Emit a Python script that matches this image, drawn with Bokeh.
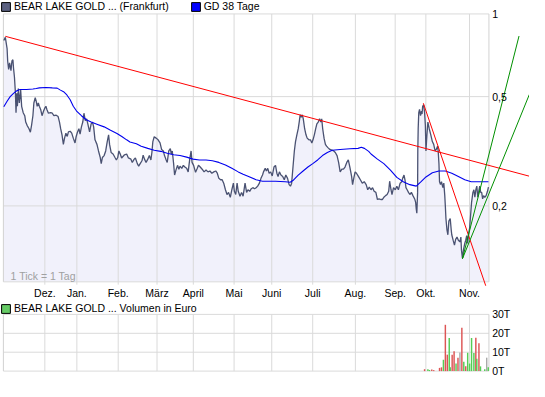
from bokeh.plotting import figure
from bokeh.models import Range1d, Legend, LegendItem, ColumnDataSource, LinearScale
from bokeh.embed import file_html
from bokeh.resources import INLINE
from bokeh.core.properties import value

# ---------------- data (day index, EUR) ----------------
month_days = [21.35, 37.85, 59.15, 79.15, 97.85, 118.85, 138.25, 159.35, 181.35, 201.85, 217.65, 240.15]
month_labels = ["Dez.", "Jan.", "Feb.", "März", "April", "Mai", "Juni", "Juli", "Aug.", "Sep.", "Okt.", "Nov."]

price_day = [
    0.2, 1.0, 1.9, 2.2, 2.7, 3.2, 3.9, 4.4, 4.9, 5.2,
    5.7, 6.2, 6.5, 6.9, 7.2, 7.7, 8.2, 8.9, 9.4, 10.2,
    11.0, 11.5, 12.2, 13.2, 13.9, 14.5, 15.2, 15.7, 16.4, 16.9,
    17.4, 18.0, 18.5, 19.2, 19.9, 20.7, 21.4, 21.9, 22.4, 23.2,
    24.4, 25.2, 26.0, 27.2, 28.2, 28.9, 29.5, 30.2, 30.9, 31.5,
    32.2, 32.9, 33.5, 34.4, 35.2, 36.0, 36.9, 37.5, 38.2, 38.9,
    39.5, 40.2, 40.9, 41.5, 42.2, 42.9, 43.5, 44.4, 45.2, 45.9,
    46.5, 47.2, 48.2, 49.0, 49.9, 50.4, 51.0, 51.9, 52.7, 53.5,
    54.2, 54.7, 55.5, 56.5, 57.5, 58.2, 58.9, 59.5, 60.2, 60.9,
    62.4, 63.5, 64.4, 65.7, 66.4, 67.4, 68.0, 69.0, 69.7, 70.7,
    71.4, 72.0, 72.7, 73.5, 74.4, 75.2, 76.0, 76.5, 77.0, 77.7,
    78.7, 79.7, 80.7, 81.5, 82.4, 83.0, 83.7, 84.4, 85.2, 86.0,
    86.5, 87.0, 87.7, 88.2, 88.9, 89.7, 90.4, 91.0, 91.9, 92.7,
    93.5, 94.4, 95.2, 96.0, 96.7, 97.2, 98.0, 99.0, 99.9, 100.5,
    101.4, 102.4, 103.4, 104.4, 105.4, 106.4, 107.4, 108.4, 109.4, 110.2,
    111.0, 111.9, 112.7, 113.5, 114.4, 115.2, 116.0, 116.9, 117.7, 118.5,
    119.0, 119.7, 120.4, 121.0, 121.9, 122.7, 123.5, 124.5, 125.3, 126.0,
    126.9, 127.7, 128.5, 129.4, 130.2, 131.0, 131.9, 132.7, 133.5, 134.0,
    134.9, 135.5, 136.2, 136.9, 137.7, 138.5, 139.4, 140.2, 140.9, 141.5,
    142.2, 143.0, 143.9, 144.7, 145.5, 146.4, 147.2, 147.9, 148.5, 149.2,
    149.9, 150.5, 151.2, 151.9, 152.4, 152.9, 153.5, 154.0, 154.5, 155.2,
    155.9, 156.5, 157.4, 158.2, 158.9, 159.5, 160.2, 160.9, 161.5, 162.2,
    162.9, 163.5, 164.0, 164.5, 165.2, 165.9, 166.5, 167.2, 168.2, 169.2,
    170.2, 171.0, 171.9, 172.7, 173.5, 174.4, 175.2, 176.0, 176.9, 177.7,
    178.5, 179.4, 179.9, 180.5, 181.2, 181.9, 182.9, 183.9, 184.9, 185.9,
    186.9, 187.7, 188.5, 189.4, 190.2, 191.0, 191.9, 192.7, 193.5, 194.4,
    195.2, 196.0, 196.9, 197.7, 198.5, 199.0, 199.7, 200.2, 201.0, 201.9,
    202.7, 203.5, 204.4, 205.2, 205.7, 206.4, 206.9, 207.4, 208.0, 208.7,
    209.4, 210.2, 211.0, 211.9, 212.4, 212.7, 213.0, 213.4, 213.5, 213.7,
    214.0, 214.4, 214.9, 215.4, 215.7, 216.0, 216.5, 217.0, 217.4, 217.7,
    218.2, 218.7, 219.4, 220.2, 221.0, 221.7, 222.4, 223.0, 223.7, 224.0,
    224.4, 224.7, 225.2, 225.7, 226.4, 226.9, 227.4, 227.7, 228.0, 228.5,
    229.0, 229.5, 230.2, 230.7, 231.0, 231.7, 232.4, 233.0, 233.7, 234.4,
    235.2, 235.7, 236.0, 236.5, 237.0, 237.7, 238.2, 238.7, 239.2, 239.7,
    240.2, 240.7, 241.2, 241.9, 242.4, 242.9, 243.4, 243.9, 244.4, 244.9,
    245.4, 245.9, 246.4, 246.9, 247.4, 248.0, 248.7, 249.4, 249.9,
]
price_eur = [
    0.800, 0.822, 0.748, 0.674, 0.628, 0.663, 0.622, 0.674, 0.681, 0.637,
    0.588, 0.514, 0.437, 0.514, 0.461, 0.535, 0.474, 0.528, 0.461, 0.437,
    0.426, 0.404, 0.393, 0.382, 0.371, 0.393, 0.426, 0.474, 0.496, 0.481,
    0.461, 0.474, 0.461, 0.449, 0.426, 0.443, 0.455, 0.461, 0.449, 0.435,
    0.437, 0.435, 0.426, 0.428, 0.423, 0.404, 0.382, 0.363, 0.335, 0.353,
    0.368, 0.358, 0.372, 0.374, 0.368, 0.353, 0.339, 0.358, 0.372, 0.382,
    0.365, 0.388, 0.404, 0.435, 0.409, 0.415, 0.398, 0.372, 0.398, 0.404,
    0.388, 0.348, 0.335, 0.317, 0.300, 0.285, 0.300, 0.305, 0.317, 0.343,
    0.363, 0.335, 0.313, 0.309, 0.300, 0.294, 0.300, 0.317, 0.309, 0.299,
    0.307, 0.309, 0.299, 0.296, 0.288, 0.296, 0.299, 0.285, 0.279, 0.287,
    0.292, 0.306, 0.296, 0.288, 0.296, 0.305, 0.294, 0.313, 0.343, 0.357,
    0.353, 0.348, 0.339, 0.321, 0.317, 0.305, 0.296, 0.288, 0.317, 0.323,
    0.309, 0.317, 0.285, 0.259, 0.270, 0.281, 0.272, 0.279, 0.274, 0.281,
    0.277, 0.274, 0.266, 0.296, 0.317, 0.288, 0.281, 0.265, 0.274, 0.281,
    0.277, 0.272, 0.266, 0.270, 0.266, 0.268, 0.263, 0.266, 0.268, 0.263,
    0.252, 0.249, 0.249, 0.242, 0.229, 0.220, 0.224, 0.215, 0.229, 0.242,
    0.226, 0.220, 0.242, 0.226, 0.217, 0.224, 0.217, 0.242, 0.224, 0.229,
    0.226, 0.231, 0.233, 0.231, 0.233, 0.236, 0.242, 0.252, 0.259, 0.266,
    0.274, 0.268, 0.274, 0.263, 0.266, 0.257, 0.277, 0.281, 0.263, 0.256,
    0.266, 0.259, 0.256, 0.249, 0.259, 0.252, 0.239, 0.236, 0.242, 0.277,
    0.317, 0.343, 0.363, 0.382, 0.404, 0.429, 0.421, 0.429, 0.415, 0.382,
    0.363, 0.353, 0.348, 0.348, 0.339, 0.348, 0.363, 0.382, 0.398, 0.404,
    0.415, 0.404, 0.415, 0.382, 0.353, 0.335, 0.330, 0.326, 0.321, 0.319,
    0.317, 0.313, 0.305, 0.288, 0.266, 0.272, 0.272, 0.277, 0.288, 0.294,
    0.277, 0.256, 0.239, 0.252, 0.266, 0.263, 0.256, 0.249, 0.242, 0.245,
    0.239, 0.229, 0.234, 0.229, 0.233, 0.226, 0.224, 0.211, 0.212, 0.211,
    0.211, 0.215, 0.218, 0.220, 0.226, 0.246, 0.229, 0.220, 0.233, 0.229,
    0.236, 0.229, 0.242, 0.245, 0.252, 0.259, 0.249, 0.233, 0.229, 0.224,
    0.220, 0.224, 0.218, 0.212, 0.206, 0.195, 0.188, 0.224, 0.317, 0.382,
    0.437, 0.449, 0.426, 0.443, 0.432, 0.461, 0.467, 0.437, 0.393, 0.317,
    0.363, 0.404, 0.382, 0.363, 0.343, 0.335, 0.317, 0.321, 0.330, 0.317,
    0.285, 0.245, 0.239, 0.245, 0.233, 0.242, 0.218, 0.199, 0.180, 0.164,
    0.157, 0.176, 0.180, 0.164, 0.157, 0.150, 0.144, 0.151, 0.154, 0.150,
    0.148, 0.154, 0.138, 0.129, 0.138, 0.146, 0.150, 0.156, 0.146, 0.159,
    0.166, 0.185, 0.206, 0.224, 0.229, 0.215, 0.229, 0.236, 0.215, 0.226,
    0.236, 0.224, 0.224, 0.212, 0.218, 0.215, 0.218, 0.226, 0.234,
]

ma_day = [
    0.2, 1.9, 3.5, 5.2, 6.9, 8.5, 11.9, 15.2, 16.9, 18.5,
    21.9, 25.2, 27.7, 29.4, 31.0, 32.7, 34.4, 36.0, 37.7, 40.2,
    42.7, 45.2, 48.5, 51.9, 55.2, 58.5, 61.0, 63.5, 65.2, 68.5,
    71.0, 74.4, 77.7, 81.0, 84.4, 87.7, 91.0, 94.4, 97.7, 101.0,
    104.4, 107.7, 111.0, 114.4, 117.7, 121.0, 123.5, 125.7, 130.2, 133.5,
    140.2, 145.2, 147.7, 149.4, 151.9, 154.4, 156.9, 159.4, 161.9, 164.4,
    166.9, 169.4, 173.5, 178.5, 182.7, 184.4, 186.0, 188.2, 189.4, 192.7,
    196.0, 199.4, 202.7, 206.0, 209.4, 212.7, 215.2, 217.7, 221.0, 224.4,
    227.7, 231.0, 234.4, 237.7, 241.0, 249.9,
]
ma_eur = [
    0.459, 0.481, 0.500, 0.514, 0.525, 0.531, 0.531, 0.533, 0.535, 0.538,
    0.540, 0.538, 0.537, 0.528, 0.521, 0.507, 0.487, 0.461, 0.443, 0.426,
    0.412, 0.404, 0.396, 0.388, 0.377, 0.367, 0.358, 0.348, 0.342, 0.337,
    0.330, 0.324, 0.319, 0.316, 0.311, 0.307, 0.305, 0.301, 0.296, 0.294,
    0.294, 0.292, 0.288, 0.282, 0.274, 0.266, 0.261, 0.257, 0.249, 0.246,
    0.246, 0.245, 0.244, 0.248, 0.259, 0.268, 0.277, 0.285, 0.294, 0.305,
    0.313, 0.319, 0.321, 0.323, 0.324, 0.327, 0.324, 0.316, 0.309, 0.296,
    0.285, 0.270, 0.254, 0.245, 0.239, 0.236, 0.245, 0.255, 0.264, 0.268,
    0.268, 0.263, 0.256, 0.249, 0.245, 0.245,
]

# trend lines drawn on the chart (start day, start EUR, end day, end EUR)
trend_day0 = [1.0, 216.35, 236.5, 236.5]
trend_eur0 = [0.829, 0.473, 0.1284, 0.1284]
trend_day1 = [271.0, 248.5, 265.65, 271.0]
trend_eur1 = [0.2565, 0.1024, 0.831, 0.5096]
trend_color = ["#ff0000", "#ff0000", "#009000", "#009000"]

price_ticks = [1.0, 0.5, 0.2]
price_tick_labels = ["1", "0,5", "0,2"]

vol_day = [217.0, 218.7, 219.5, 220.7, 221.7, 224.7, 225.7, 226.7, 227.7, 228.7,
           229.7, 230.2, 231.2, 232.2, 233.2, 234.2, 235.2, 236.2, 237.2, 238.2,
           239.2, 240.2, 241.2, 242.4, 243.4, 243.9, 245.0, 245.8, 248.0, 249.0, 249.8]
vol_eur = [1000, 1000, 600, 800, 500, 1700, 2000, 6000, 24500, 8700,
           17500, 2000, 8700, 10500, 4000, 7000, 9800, 23000, 5000, 2500,
           9700, 4000, 17500, 9600, 17700, 6600, 14700, 2500, 1000, 7100, 2000]
vol_dir = ["d", "u", "u", "d", "d", "d", "d", "u", "d", "d",
           "u", "u", "d", "d", "u", "d", "n", "d", "u", "d",
           "u", "u", "u", "u", "d", "u", "d", "u", "u", "n", "u"]
vol_ticks = [0, 10000, 20000, 30000]
vol_tick_labels = ["0T", "10T", "20T", "30T"]

assert len(price_day) == len(price_eur)
assert len(ma_day) == len(ma_eur)
assert len(vol_day) == len(vol_eur) == len(vol_dir)

# ---------------- styling ----------------
FONT = "Liberation Sans"
FS = "10.5px"
GRID = "#dadada"
BORDER = "#d2d2d2"
FILL = "#f1f1fb"
PRICE_C = "#4a5272"
MA_C = "#0000ee"
DIR_COLORS = {"u": "#55cc55", "d": "#dd5555", "n": "#aaaaaa"}

plot_end = 250.15     # last day inside both plot boxes
y_floor = 0.1058      # bottom edge of the price box
y_tick_low = 0.1033   # month lines poke out a little below the price box
month_label_eur = 0.0965
label_day = 251.8     # value labels right of the boxes
tick_note_day = 3.7
tick_note_eur = 0.1113

# one canvas: price panel (log scale) on top, volume panel (linear) below
p = figure(width=529, height=381, output_backend="svg", toolbar_location=None,
           x_range=Range1d(-1.494, 271.05), y_range=Range1d(0.04587, 1.1194),
           y_axis_type="log", x_axis_location=None, y_axis_location=None,
           min_border=0, min_border_left=0, min_border_right=0,
           min_border_top=0, min_border_bottom=0)
p.extra_y_ranges = {"vol": Range1d(-5503, 196085)}
p.extra_y_scales = {"vol": LinearScale()}
p.outline_line_color = None
p.grid.visible = False
p.background_fill_color = "white"
p.border_fill_color = "white"

# ---- price panel ----
p.varea(x=price_day, y1=y_floor, y2=price_eur, fill_color=FILL)

hl = price_ticks + [y_floor]
p.segment(x0=0, x1=plot_end, y0=hl, y1=hl, line_color=GRID, line_width=1)
p.segment(x0=month_days, x1=month_days, y0=y_tick_low, y1=1.0, line_color=GRID, line_width=1)
p.segment(x0=[0, plot_end], x1=[0, plot_end], y0=y_floor, y1=1.0, line_color=BORDER, line_width=1)

p.line(price_day, price_eur, line_color=PRICE_C, line_width=1.3)
p.line(ma_day, ma_eur, line_color=MA_C, line_width=1.1)
p.segment(x0=trend_day0, y0=trend_eur0, x1=trend_day1, y1=trend_eur1,
          line_color=trend_color, line_width=1)

p.text(x=[label_day] * len(price_ticks), y=price_ticks, text=price_tick_labels,
       text_font=value(FONT), text_font_size=FS, text_color="black",
       text_align="left", text_baseline="middle")
p.text(x=month_days, y=[month_label_eur] * len(month_days), text=month_labels,
       text_font=value(FONT), text_font_size=FS, text_color="black",
       text_align="center", text_baseline="middle")
p.text(x=[tick_note_day], y=[tick_note_eur], text=["1 Tick = 1 Tag"],
       text_font=value(FONT), text_font_size=FS, text_color="#a0a0a0",
       text_align="left", text_baseline="middle")

# ---- volume panel ----
vl = vol_ticks
p.segment(x0=0, x1=plot_end, y0=vl, y1=vl, line_color=GRID, line_width=1, y_range_name="vol")
p.segment(x0=month_days, x1=month_days, y0=0, y1=vol_ticks[-1], line_color=GRID,
          line_width=1, y_range_name="vol")
p.segment(x0=[0, plot_end], x1=[0, plot_end], y0=0, y1=vol_ticks[-1], line_color=BORDER,
          line_width=1, y_range_name="vol")
src = ColumnDataSource(dict(x=vol_day, top=vol_eur, color=[DIR_COLORS[d] for d in vol_dir]))
p.vbar(x="x", top="top", bottom=0, width=0.75, source=src, fill_color="color",
       line_color=None, y_range_name="vol")
p.text(x=[label_day] * len(vol_ticks), y=vol_ticks, text=vol_tick_labels,
       text_font=value(FONT), text_font_size=FS, text_color="black",
       text_align="left", text_baseline="middle", y_range_name="vol")

# ---- legends (proxy squares sit left of the visible range) ----
proxy_day = [-40.0]
sq_price = p.quad(left=proxy_day, right=proxy_day, top=[0.5], bottom=[0.4],
                  fill_color="#5a6080", line_color="black")
sq_ma = p.quad(left=proxy_day, right=proxy_day, top=[0.5], bottom=[0.4],
               fill_color="#0000ff", line_color="black")
sq_vol = p.quad(left=proxy_day, right=proxy_day, top=[0.5], bottom=[0.4],
                fill_color="#66cc66", line_color="black")

leg_style = dict(orientation="horizontal", padding=1, margin=0, spacing=21,
                 glyph_width=11, glyph_height=11, label_standoff=3, label_height=10,
                 label_text_font=FONT, label_text_font_size=FS, label_text_color="black",
                 border_line_color=None, background_fill_alpha=0)
leg = Legend(items=[LegendItem(label="BEAR LAKE GOLD ... (Frankfurt)", renderers=[sq_price]),
                    LegendItem(label="GD 38 Tage", renderers=[sq_ma])],
             location="top_left", **leg_style)
vleg = Legend(items=[LegendItem(label="BEAR LAKE GOLD ... Volumen in Euro", renderers=[sq_vol])],
              location=(0, 67), **leg_style)
p.add_layout(leg)
p.add_layout(vleg)

open("out.html", "w").write(file_html(p, INLINE))
